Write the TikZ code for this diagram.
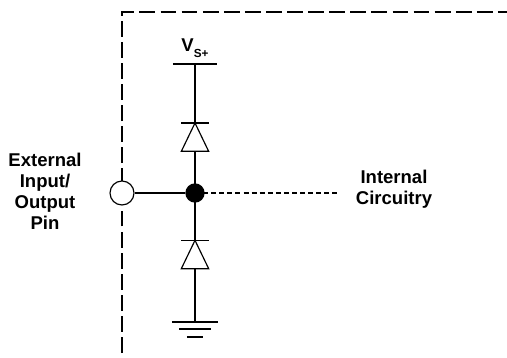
\documentclass[tikz,border=0pt]{standalone}
\usepackage{fontspec}
\setmainfont{Liberation Sans}
\begin{document}
\begin{tikzpicture}[
    borde/.style={line width=2.4pt, dash pattern=on 13.5pt off 4.5pt},
    cable/.style={line width=1pt},
    interno/.style={line width=1.8pt, dash pattern=on 4.3pt off 2.6pt},
    etiqueta/.style={font=\bfseries\fontsize{15.8}{18}\selectfont, align=center}
  ]
        \useasboundingbox (-5.85,-4.95) rectangle (9.36,5.79);

        % borde del chip
        \draw[borde] (-2.19,-4.8) -- (-2.19,5.43) -- (9.36,5.43);

        % nodos
        \coordinate (Vs) at (0,3.87);
        \coordinate (GND) at (0,-3.87);
        \coordinate (IC) at (4.35,0);
        \coordinate (D1a) at (0,1.25);
        \coordinate (D1k) at (0,2.1);
        \coordinate (D2a) at (0,-2.27);
        \coordinate (D2k) at (0,-1.42);

        % cables
        \draw[interno] (0,0) -- (IC);
        \draw[cable] (0,0) -- (D1a);
        \draw[cable] (D1k) -- (Vs);
        \draw[cable] (0,0) -- (D2k);
        \draw[cable] (D2a) -- (GND);

        \node[circle, fill=black, inner sep=0pt, minimum size=0.58cm] (J) at (0,0) {};
        \node[circle, draw, cable, fill=white, inner sep=0pt, minimum size=0.72cm] (pin) at (-2.19,0) {};
        \draw[cable] (pin) -- (J);

        % diodos
        \draw[cable] (-0.41,1.25) -- (0.41,1.25) -- (D1k) -- cycle;
        \draw[cable] (-0.41,2.1) -- (0.41,2.1);
        \draw[cable] (-0.41,-2.27) -- (0.41,-2.27) -- (D2k) -- cycle;
        \draw[cable] (-0.41,-1.42) -- (0.41,-1.42);

        % V_S+ y tierra
        \draw[cable] (-0.66,3.87) -- (0.66,3.87);
        \draw[line width=1.3pt] (-0.69,-3.87) -- (0.69,-3.87);
        \draw[line width=1.3pt] (-0.48,-4.08) -- (0.48,-4.08);
        \draw[line width=1.3pt] (-0.24,-4.32) -- (0.24,-4.32);

        \node[etiqueta, anchor=base] (VsLabel) at (0,4.23) {V\raisebox{-4.3pt}{\fontsize{10}{10}\selectfont S+}};
        \node[etiqueta] (ext) at (-4.5,0.05) {External\\Input/\\Output\\Pin};
        \node[etiqueta] (int) at (5.97,0.1) {Internal\\Circuitry};

      \end{tikzpicture}
\end{document}
